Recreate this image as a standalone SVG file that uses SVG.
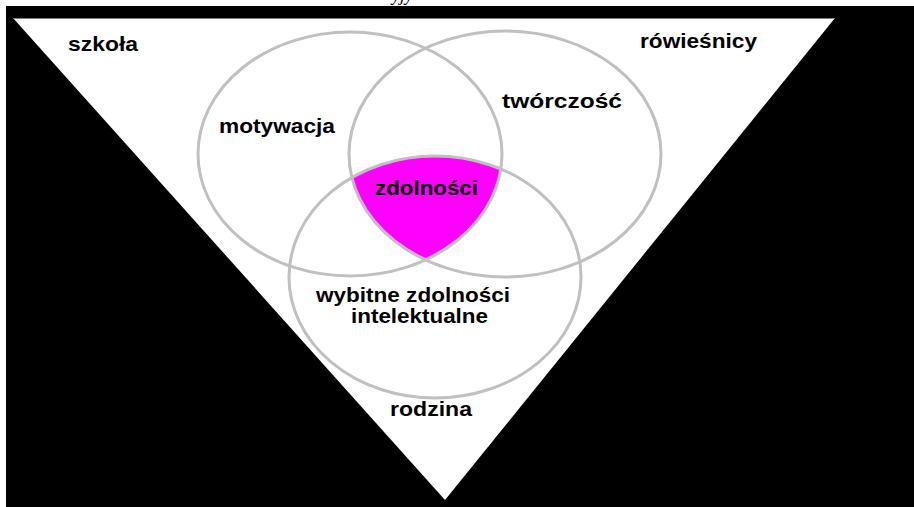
<svg xmlns="http://www.w3.org/2000/svg" width="914" height="507" viewBox="0 0 914 507">
<style>
.c{fill:none;stroke:#c0c0c0;stroke-width:3}
.t{font-family:"Liberation Sans",Arial,sans-serif;font-weight:bold;font-size:21px;fill:#000}
</style>
<defs>
<clipPath id="clipA"><ellipse cx="350" cy="154" rx="152" ry="122"/></clipPath>
<clipPath id="clipB"><ellipse cx="505" cy="154" rx="156" ry="123"/></clipPath>
</defs>
<rect x="0" y="0" width="914" height="507" fill="#fff"/>
<rect x="6" y="6" width="908" height="501" fill="#000"/>
<text x="392" y="1" font-family="Liberation Serif,serif" font-size="18" font-style="italic">yjy</text>
<polygon points="13,18 835,18 445,500" fill="#fff"/>
<line x1="13" y1="18.5" x2="835" y2="18.5" stroke="#808080" stroke-width="1"/>
<g id="intersection" clip-path="url(#clipA)"><g clip-path="url(#clipB)"><ellipse cx="435" cy="277" rx="146" ry="121" fill="#ff00ff"/></g></g>
<g id="motywacja"><ellipse class="c" cx="350" cy="154" rx="152" ry="122"/><text class="t" x="219" y="133" textLength="116" lengthAdjust="spacingAndGlyphs">motywacja</text></g>
<g id="tworczosc"><ellipse class="c" cx="505" cy="154" rx="156" ry="123"/><text class="t" x="502" y="108" textLength="120" lengthAdjust="spacingAndGlyphs">twórczość</text></g>
<g id="wybitne"><ellipse class="c" cx="435" cy="277" rx="146" ry="121"/><text class="t" x="316" y="302" textLength="194" lengthAdjust="spacingAndGlyphs">wybitne zdolności</text><text class="t" x="351" y="323" textLength="137" lengthAdjust="spacingAndGlyphs">intelektualne</text></g>
<g id="zdolnosci"><text class="t" x="375" y="195" textLength="103" lengthAdjust="spacingAndGlyphs">zdolności</text></g>
<g id="szkola"><text class="t" x="68" y="51" textLength="70" lengthAdjust="spacingAndGlyphs">szkoła</text></g>
<g id="rowiesnicy"><text class="t" x="640" y="48" textLength="117" lengthAdjust="spacingAndGlyphs">rówieśnicy</text></g>
<g id="rodzina"><text class="t" x="390" y="416" textLength="82" lengthAdjust="spacingAndGlyphs">rodzina</text></g>
<g id="connectors"/>
</svg>
